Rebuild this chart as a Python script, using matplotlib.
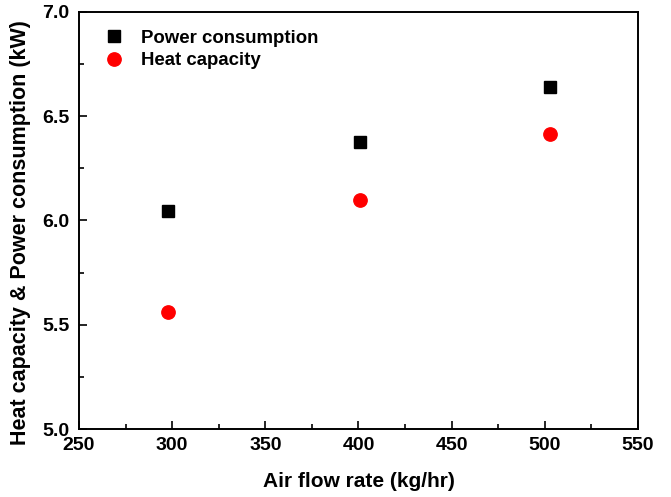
import matplotlib
matplotlib.use('Agg')
import matplotlib.pyplot as plt

# data
air_flow = [298, 401, 503]
power = [6.047, 6.375, 6.64]
heat = [5.56, 6.10, 6.415]

xticks = [250, 300, 350, 400, 450, 500, 550]
yticks = [5.0, 5.5, 6.0, 6.5, 7.0]

plt.rcParams.update({'font.family': 'Liberation Sans', 'font.weight': 'bold', 'font.size': 14})

fig = plt.figure(figsize=(6.71, 4.97), dpi=100)
ax = fig.add_axes([0.1177, 0.1368, 0.8331, 0.8391])

ax.plot(air_flow, power, linestyle='none', marker='s', color='black', markersize=8.6, label='Power consumption')
ax.plot(air_flow, heat, linestyle='none', marker='o', color='red', markersize=9.6, label='Heat capacity')

ax.set_xlim(250, 550)
ax.set_ylim(5.0, 7.0)
ax.set_xticks(xticks)
ax.set_yticks(yticks)
ax.set_xticks([275, 325, 375, 425, 475, 525], minor=True)
ax.set_yticks([5.25, 5.75, 6.25, 6.75], minor=True)
ax.set_yticklabels(['%.1f' % v for v in yticks])
ax.tick_params(which='major', direction='in', length=6, width=1.2)
ax.tick_params(axis='x', which='major', pad=6)
ax.tick_params(axis='y', which='major', pad=7)
ax.tick_params(which='minor', direction='in', length=3.5, width=1.2)
for s in ax.spines.values():
    s.set_linewidth(1.4)

ax.set_xlabel('Air flow rate (kg/hr)', fontsize=15, fontweight='bold', labelpad=13)
ax.set_ylabel('Heat capacity & Power consumption (kW)', fontsize=15.5, fontweight='bold')
ax.yaxis.set_label_coords(-0.086, 0.47)

ax.legend(loc='upper left', bbox_to_anchor=(0.046, 0.958), frameon=False, borderaxespad=0,
          handlelength=1.0, handletextpad=0.95, labelspacing=0.3, borderpad=0,
          prop={'weight': 'bold', 'size': 13.4})

fig.savefig('out.png', dpi=100)
